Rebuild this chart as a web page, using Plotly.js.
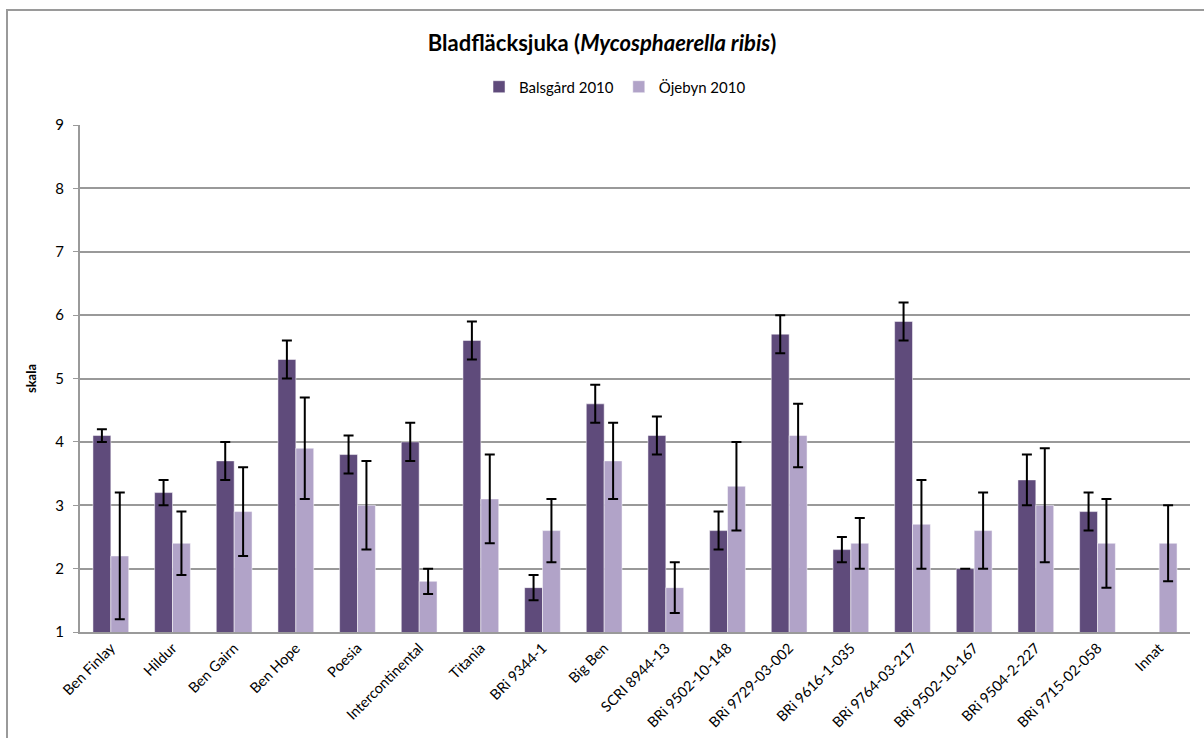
<!DOCTYPE html>
<html>
<head>
<meta charset="utf-8">
<script src="https://cdn.plot.ly/plotly-3.0.1.min.js"></script>
<style>
html,body{margin:0;padding:0;background:#fff;}
#frame{position:absolute;left:6px;top:9px;width:1198px;height:740px;border-top:2px solid #9a9a9a;border-left:2px solid #9a9a9a;box-sizing:border-box;}
#chart{position:absolute;left:0;top:0;width:1204px;height:738px;}
</style>
</head>
<body>
<div id="frame"></div>
<div id="chart"></div>
<script>
const categories = ["Ben Finlay","Hildur","Ben Gairn","Ben Hope","Poesia","Intercontinental","Titania","BRi 9344-1","Big Ben","SCRI 8944-13","BRi 9502-10-148","BRi 9729-03-002","BRi 9616-1-035","BRi 9764-03-217","BRi 9502-10-167","BRi 9504-2-227","BRi 9715-02-058","Innat"];
const balsgard = [4.1,3.2,3.7,5.3,3.8,4.0,5.6,1.7,4.6,4.1,2.6,5.7,2.3,5.9,2.0,3.4,2.9,null];
const balsgardErr = [0.1,0.2,0.3,0.3,0.3,0.3,0.3,0.2,0.3,0.3,0.3,0.3,0.2,0.3,0.0,0.4,0.3,null];
const ojebyn = [2.2,2.4,2.9,3.9,3.0,1.8,3.1,2.6,3.7,1.7,3.3,4.1,2.4,2.7,2.6,3.0,2.4,2.4];
const ojebynErr = [1.0,0.5,0.7,0.8,0.7,0.2,0.7,0.5,0.6,0.4,0.7,0.5,0.4,0.7,0.6,0.9,0.7,0.6];
const yTicks = [1,2,3,4,5,6,7,8,9];

const errStyle = {type:'data', visible:true, color:'#000', thickness:2, width:5};
const traces = [
  {type:'bar', name:'Balsgård 2010', x:categories, y:balsgard,
   marker:{color:'#5f4b7b', line:{color:'#ffffff', width:0.5}},
   error_y:Object.assign({array:balsgardErr}, errStyle)},
  {type:'bar', name:'Öjebyn 2010', x:categories, y:ojebyn,
   marker:{color:'#b1a3c8', line:{color:'#ffffff', width:0.5}},
   error_y:Object.assign({array:ojebynErr}, errStyle)}
];
const font = 'Lato, "Open Sans", sans-serif';
const layout = {
  width:1204, height:738,
  margin:{l:80, r:14, t:125, b:106},
  paper_bgcolor:'rgba(0,0,0,0)', plot_bgcolor:'#fff',
  font:{family:font, size:14, color:'#000'},
  title:{text:'<b>Bladfläcksjuka (<i>Mycosphaerella ribis</i>)</b>', x:0.5, xanchor:'center', y:0.942, yanchor:'middle', font:{family:font, size:22, color:'#000'}},
  barmode:'group', bargap:0.42, bargroupgap:0,
  showlegend:true,
  legend:{orientation:'h', x:0.482, xanchor:'center', y:1.075, yanchor:'middle', font:{family:font, size:15}, itemwidth:30, traceorder:'normal'},
  xaxis:{tickangle:-45, tickfont:{family:font, size:14.5}, showline:true, linecolor:'#9a9a9a', linewidth:2, ticks:'', showgrid:false, automargin:false},
  yaxis:{range:[1,9], tickvals:yTicks, ticktext:yTicks.map(String), showgrid:true, gridcolor:'#999999', gridwidth:2,
         showline:true, linecolor:'#9a9a9a', linewidth:2, ticks:'outside', ticklen:5, tickcolor:'#9a9a9a',
         ticklabelstandoff:6,
         zeroline:false, tickfont:{family:font, size:15},
         title:{text:'<b>skala</b>', font:{family:font, size:13}, standoff:16}, automargin:false}
};
Plotly.newPlot('chart', traces, layout, {displayModeBar:false});
</script>
</body>
</html>
